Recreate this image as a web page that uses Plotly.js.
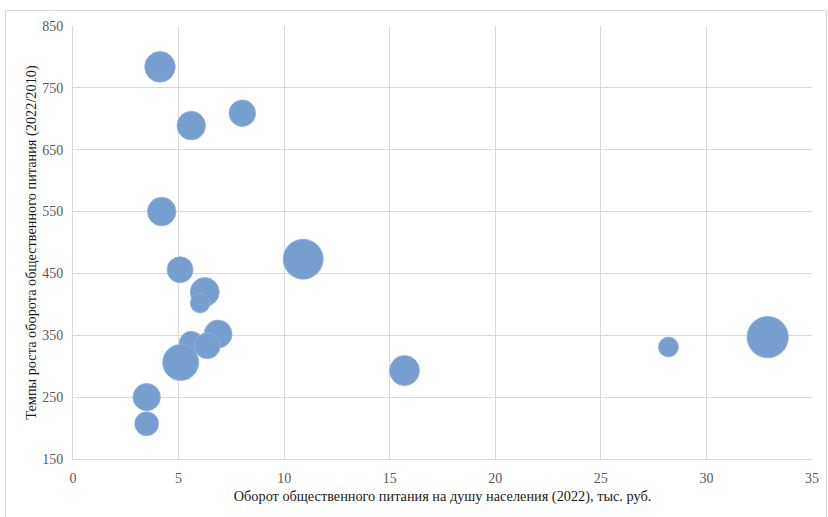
<!DOCTYPE html>
<html><head><meta charset="utf-8">
<script src="https://cdn.plot.ly/plotly-3.0.1.min.js"></script>
<style>
html,body{margin:0;padding:0;background:#fff;}
#frame{position:absolute;left:5px;top:10px;width:822px;height:520px;border:1px solid #d9d9d9;box-sizing:border-box;pointer-events:none;z-index:5;}
#chart{position:absolute;left:0;top:0;width:828px;height:517px;}
</style></head>
<body>
<div id="chart"></div>
<div id="frame"></div>
<script>
// Оборот общественного питания на душу населения (2022), тыс. руб.
const turnoverPerCapita = [4.12, 5.6, 8.02, 4.2, 5.07, 6.24, 6.02, 6.87, 5.6, 6.36, 5.1, 3.49, 3.49, 10.9, 15.7, 28.2, 32.9];
// Темпы роста оборота общественного питания (2022/2010)
const growthRate = [784, 689, 709, 550, 456, 420, 402, 352, 337, 333, 306, 250, 207, 473, 293, 331, 347];
// Размер пузырька (третий показатель, оценка по площади)
const bubbleSize = [234, 204, 177, 204, 169, 210, 96, 196, 144, 169, 324, 188, 144, 400, 225, 100, 428];

const xTicks = [0, 5, 10, 15, 20, 25, 30, 35];
const yTicks = [150, 250, 350, 450, 550, 650, 750, 850];

const trace = {
  type: 'scatter',
  mode: 'markers',
  x: turnoverPerCapita,
  y: growthRate,
  marker: {
    size: bubbleSize,
    sizemode: 'area',
    sizeref: 0.5,
    color: '#769fd0',
    line: {color: '#8fb2dc', width: 0.8},
    opacity: 1
  },
  hoverinfo: 'x+y'
};

const tickFont = {family: '"Liberation Serif", "Times New Roman", serif', size: 14, color: '#595959'};
const titleFont = {family: '"Liberation Serif", "Times New Roman", serif', size: 14.3, color: '#1a1a1a'};

const layout = {
  width: 828, height: 517,
  margin: {l: 73, r: 16, t: 26, b: 58},
  paper_bgcolor: '#ffffff',
  plot_bgcolor: '#ffffff',
  showlegend: false,
  xaxis: {
    range: [0, 35],
    tickvals: xTicks,
    ticktext: xTicks.map(String),
    showgrid: true, gridcolor: '#d9d9d9', gridwidth: 1,
    zeroline: false,
    showline: true, linecolor: '#d9d9d9', linewidth: 1,
    ticks: '',
    ticklabelstandoff: 6,
    tickfont: tickFont,
    title: {text: 'Оборот общественного питания на душу населения (2022), тыс. руб.', font: titleFont, standoff: 6}
  },
  yaxis: {
    range: [150, 850],
    tickvals: yTicks,
    ticktext: yTicks.map(String),
    showgrid: true, gridcolor: '#d9d9d9', gridwidth: 1,
    zeroline: false,
    showline: true, linecolor: '#d9d9d9', linewidth: 1,
    ticks: '',
    ticklabelstandoff: 6,
    tickfont: tickFont,
    title: {text: 'Темпы роста оборота общественного питания (2022/2010)', font: titleFont, standoff: 2}
  }
};

Plotly.newPlot('chart', [trace], layout, {displayModeBar: false, staticPlot: true});
</script>
</body></html>
